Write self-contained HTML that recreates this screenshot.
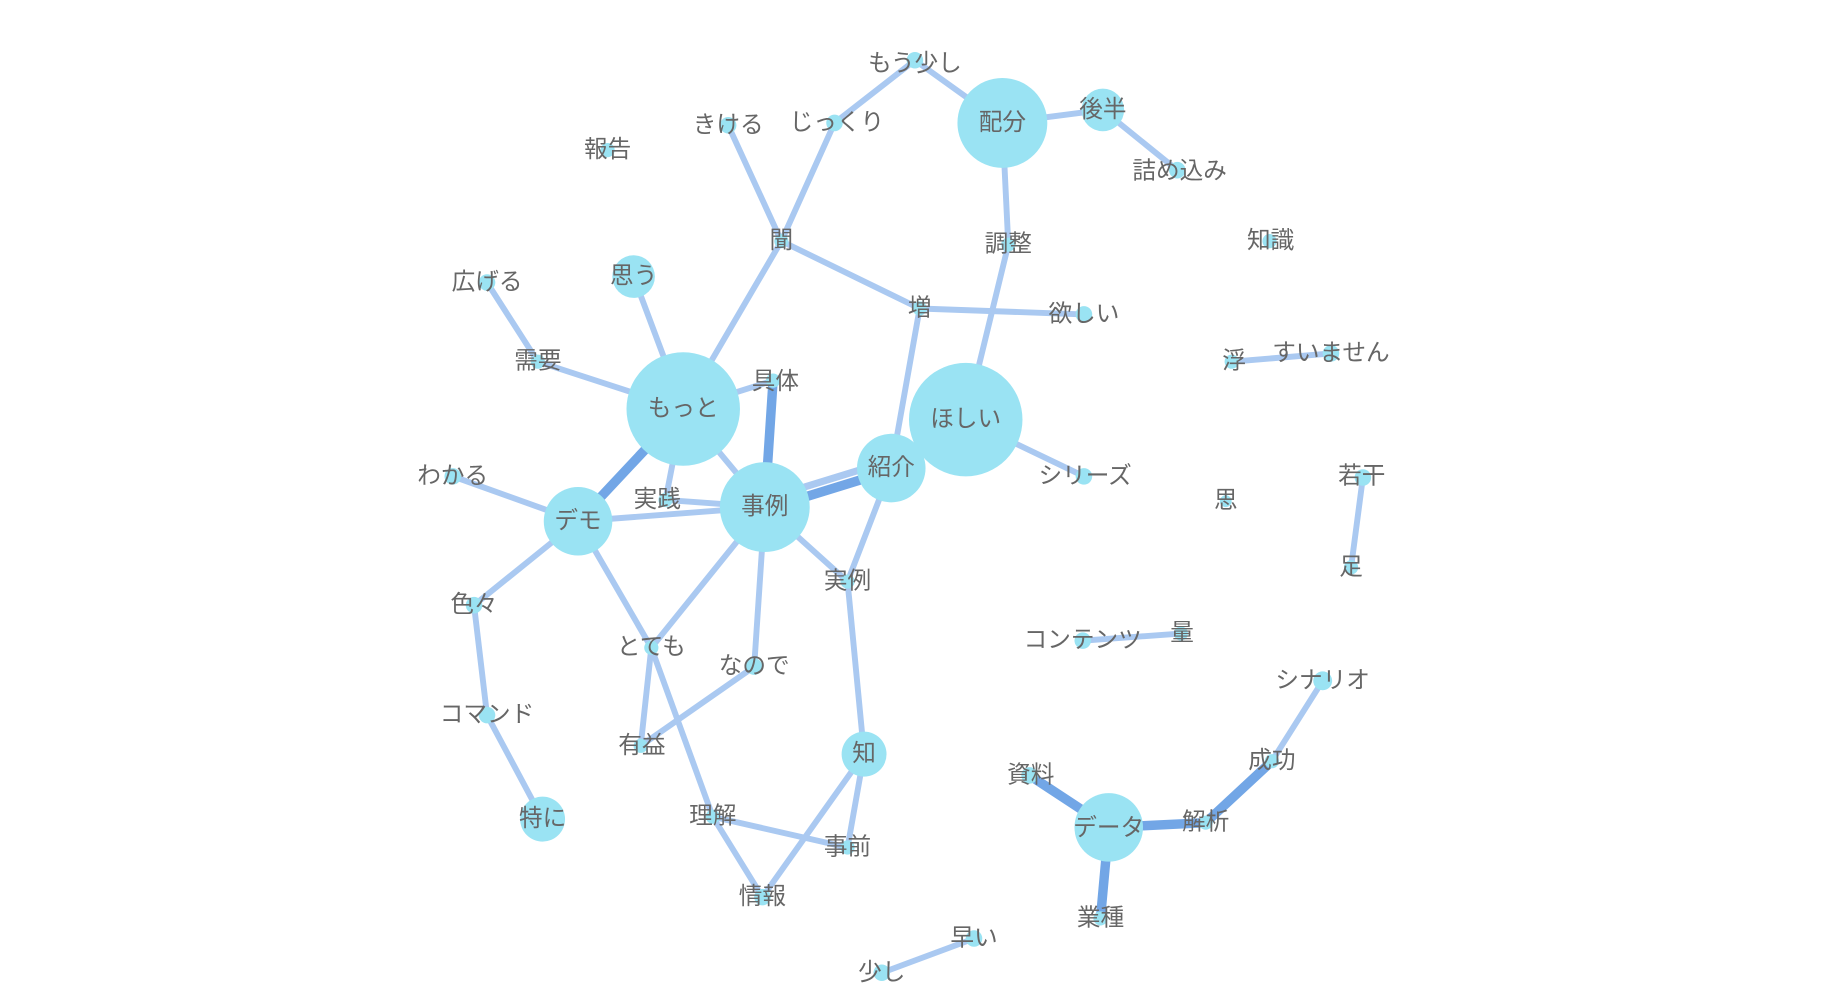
<!DOCTYPE html>
<html><head><meta charset="utf-8"><style>html,body{margin:0;padding:0;background:#fff;}svg{display:block}</style></head>
<body>
<svg width="1844" height="1008" viewBox="0 0 1560 852.8" xmlns="http://www.w3.org/2000/svg">
<g transform="translate(-4,-1)">
<g stroke="#aac9f1" stroke-width="5" stroke-linecap="round" fill="none">
<line x1="778" y1="52" x2="852" y2="105"/>
<line x1="778" y1="52" x2="710" y2="105"/>
<line x1="852" y1="105" x2="937" y2="94"/>
<line x1="937" y1="94" x2="1000" y2="145"/>
<line x1="852" y1="105" x2="857" y2="208"/>
<line x1="857" y1="208" x2="821" y2="356"/>
<line x1="620" y1="107" x2="665" y2="205"/>
<line x1="710" y1="105" x2="665" y2="205"/>
<line x1="665" y1="205" x2="582" y2="347"/>
<line x1="665" y1="205" x2="782" y2="262"/>
<line x1="782" y1="262" x2="921" y2="267"/>
<line x1="782" y1="262" x2="758" y2="397"/>
<line x1="416" y1="240" x2="459" y2="307"/>
<line x1="459" y1="307" x2="582" y2="347"/>
<line x1="540" y1="235" x2="582" y2="347"/>
<line x1="582" y1="347" x2="651" y2="430"/>
<line x1="582" y1="347" x2="567" y2="424"/>
<line x1="582" y1="347" x2="658" y2="323"/>
<line x1="758" y1="397" x2="721" y2="493"/>
<line x1="821" y1="356" x2="921" y2="404"/>
<line x1="651" y1="430" x2="721" y2="493"/>
<line x1="567" y1="424" x2="651" y2="430"/>
<line x1="493" y1="442" x2="651" y2="430"/>
<line x1="493" y1="442" x2="387" y2="404"/>
<line x1="493" y1="442" x2="405" y2="513"/>
<line x1="493" y1="442" x2="555" y2="549"/>
<line x1="651" y1="430" x2="555" y2="549"/>
<line x1="651" y1="430" x2="642" y2="565"/>
<line x1="555" y1="549" x2="546" y2="632"/>
<line x1="642" y1="565" x2="546" y2="632"/>
<line x1="555" y1="549" x2="607" y2="692"/>
<line x1="607" y1="692" x2="649" y2="760"/>
<line x1="607" y1="692" x2="721" y2="718"/>
<line x1="735" y1="639" x2="649" y2="760"/>
<line x1="735" y1="639" x2="721" y2="718"/>
<line x1="721" y1="493" x2="735" y2="639"/>
<line x1="405" y1="513" x2="416" y2="606"/>
<line x1="416" y1="606" x2="463" y2="694"/>
<line x1="1046" y1="307" x2="1130" y2="300"/>
<line x1="1157" y1="405" x2="1147" y2="481"/>
<line x1="920" y1="543" x2="1003" y2="537"/>
<line x1="1123" y1="577" x2="1080" y2="645"/>
<line x1="828" y1="795" x2="750" y2="824"/>
<line x1="756" y1="391" x2="649" y2="424" stroke-width="6"/>
</g>
<g stroke="#72a6e6" stroke-width="8" stroke-linecap="round">
<line x1="582" y1="347" x2="493" y2="442"/>
<line x1="658" y1="323" x2="651" y2="430"/>
<line x1="758" y1="399" x2="651" y2="432"/>
<line x1="1080" y1="645" x2="1024" y2="697"/>
<line x1="1024" y1="697" x2="942" y2="701"/>
<line x1="875" y1="657" x2="942" y2="701"/>
<line x1="942" y1="701" x2="935" y2="778"/>
</g>
<g fill="#9ae3f3">
<circle cx="778" cy="52" r="7"/><circle cx="852" cy="105" r="38"/><circle cx="937" cy="94" r="18"/>
<circle cx="1000" cy="145" r="7"/><circle cx="620" cy="107" r="7"/><circle cx="710" cy="105" r="7"/>
<circle cx="518" cy="128" r="6"/><circle cx="665" cy="205" r="6"/><circle cx="857" cy="208" r="6"/>
<circle cx="1078" cy="205" r="6"/><circle cx="540" cy="235" r="18"/><circle cx="416" cy="240" r="7"/>
<circle cx="782" cy="262" r="6"/><circle cx="921" cy="267" r="7"/><circle cx="1046" cy="307" r="6"/>
<circle cx="1130" cy="300" r="7"/><circle cx="459" cy="307" r="6"/><circle cx="582" cy="347" r="48"/>
<circle cx="658" cy="323" r="6"/><circle cx="821" cy="356" r="48"/><circle cx="758" cy="397" r="29"/>
<circle cx="921" cy="404" r="7"/><circle cx="1157" cy="405" r="7"/><circle cx="387" cy="404" r="7"/>
<circle cx="567" cy="424" r="6"/><circle cx="651" cy="430" r="38"/><circle cx="493" cy="442" r="29"/>
<circle cx="1041" cy="425" r="5"/><circle cx="721" cy="493" r="6"/><circle cx="1147" cy="481" r="6"/>
<circle cx="405" cy="513" r="7"/><circle cx="555" cy="549" r="6"/><circle cx="642" cy="565" r="7"/>
<circle cx="920" cy="543" r="7"/><circle cx="1003" cy="537" r="6"/><circle cx="1123" cy="577" r="8"/>
<circle cx="416" cy="606" r="7"/><circle cx="546" cy="632" r="6"/><circle cx="735" cy="639" r="19"/>
<circle cx="1080" cy="645" r="6"/><circle cx="875" cy="657" r="7"/><circle cx="463" cy="694" r="19"/>
<circle cx="607" cy="692" r="6"/><circle cx="942" cy="701" r="29"/><circle cx="1024" cy="697" r="6"/>
<circle cx="721" cy="718" r="6"/><circle cx="649" cy="760" r="7"/><circle cx="935" cy="778" r="6"/>
<circle cx="828" cy="795" r="7"/><circle cx="750" cy="824" r="7"/>
</g>
<g fill="#666" font-family="'Liberation Sans','Noto Sans CJK JP',sans-serif" font-size="20" text-anchor="middle" dominant-baseline="central">
<text x="778" y="55">もう少し</text><text x="852" y="105">配分</text><text x="937" y="94">後半</text>
<text x="1002" y="146">詰め込み</text><text x="620" y="107">きける</text><text x="712" y="105">じっくり</text>
<text x="518" y="128">報告</text><text x="665" y="205">聞</text><text x="857" y="208">調整</text>
<text x="1079" y="205">知識</text><text x="540" y="235">思う</text><text x="416" y="240">広げる</text>
<text x="782" y="262">増</text><text x="921" y="267">欲しい</text><text x="1048" y="307">浮</text>
<text x="1130" y="300">すいません</text><text x="459" y="307">需要</text><text x="582" y="347">もっと</text>
<text x="660" y="324">具体</text><text x="821" y="356">ほしい</text><text x="758" y="397">紹介</text>
<text x="922" y="404">シリーズ</text><text x="1156" y="404">若干</text><text x="387" y="404">わかる</text>
<text x="560" y="424">実践</text><text x="651" y="430">事例</text><text x="493" y="442">デモ</text>
<text x="1041" y="425">思</text><text x="721" y="493">実例</text><text x="1147" y="481">足</text>
<text x="405" y="513">色々</text><text x="555" y="549">とても</text><text x="642" y="565">なので</text>
<text x="920" y="543">コンテンツ</text><text x="1004" y="537">量</text><text x="1123" y="577">シナリオ</text>
<text x="416" y="606">コマンド</text><text x="547" y="632">有益</text><text x="735" y="639">知</text>
<text x="1080" y="645">成功</text><text x="876" y="657">資料</text><text x="463" y="694">特に</text>
<text x="607" y="692">理解</text><text x="942" y="702">データ</text><text x="1024" y="697">解析</text>
<text x="721" y="718">事前</text><text x="649" y="760">情報</text><text x="935" y="778">業種</text>
<text x="828" y="795">早い</text><text x="750" y="824">少し</text>
</g>
</g>
</svg>
</body></html>
